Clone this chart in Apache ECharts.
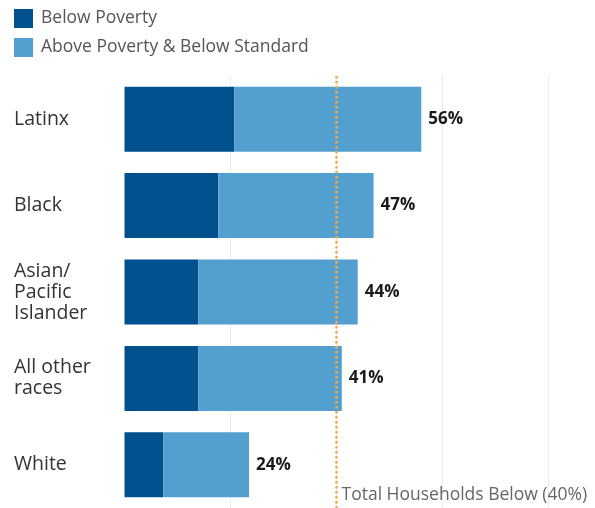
<!DOCTYPE html>
<html>
<head>
<meta charset="utf-8">
<script src="https://cdn.jsdelivr.net/npm/echarts@6/dist/echarts.min.js"></script>
<style>
  html, body { margin: 0; padding: 0; background: #fff; }
  #chart { width: 595px; height: 508px; }
</style>
</head>
<body>
<div id="chart"></div>
<script>
// 数据
var categories = ['Latinx', 'Black', 'Asian/\nPacific\nIslander', 'All other\nraces', 'White']
var belowPoverty = [20.7, 17.7, 13.9, 13.9, 7.3]
var aboveBelowStandard = [35.3, 29.3, 30.1, 27.1, 16.2]
var totals = [56, 47, 44, 41, 24]
var referenceValue = 40
var referenceText = 'Total Households Below (40%)'

var font = '"Open Sans", "Noto Sans", sans-serif'
var chart = echarts.init(document.getElementById('chart'))

var option = {
  animation: false,
  legend: {
    orient: 'vertical',
    left: 9,
    top: 4,
    itemWidth: 19,
    itemHeight: 19,
    itemGap: 10,
    icon: 'rect',
    textStyle: { fontFamily: font, fontSize: 17.5, color: '#555', padding: [0, 0, 0, 3] },
    data: ['Below Poverty', 'Above Poverty & Below Standard']
  },
  grid: {
    left: 124.5,
    width: 424,
    top: 76,
    height: 433
  },
  xAxis: {
    type: 'value',
    min: 0,
    max: 80,
    interval: 20,
    axisLabel: { show: false },
    axisLine: { show: false },
    axisTick: { show: false },
    splitLine: { showMinLine: false, lineStyle: { color: '#ebebeb', width: 1 } }
  },
  yAxis: {
    type: 'category',
    inverse: true,
    data: categories,
    axisLine: { show: false },
    axisTick: { show: false },
    axisLabel: {
      align: 'left',
      margin: 110.5,
      fontFamily: font,
      fontSize: 19.5,
      lineHeight: 21,
      color: '#333',
      padding: [3, 0, 0, 0]
    }
  },
  series: [
    {
      name: 'Below Poverty',
      type: 'bar',
      stack: 'total',
      barWidth: 65,
      itemStyle: { color: '#02518f' },
      data: belowPoverty
    },
    {
      name: 'Above Poverty & Below Standard',
      type: 'bar',
      stack: 'total',
      barWidth: 65,
      itemStyle: { color: '#539fd0' },
      label: {
        show: true,
        position: 'right',
        distance: 7,
        fontFamily: font,
        fontSize: 17,
        fontWeight: 'bold',
        color: '#1a1a1a',
        formatter: function (p) { return totals[p.dataIndex] + '%' }
      },
      markLine: {
        silent: true,
        symbol: 'none',
        label: { show: false },
        lineStyle: { color: '#f7a949', type: [2.5, 2.5], width: 2.5 },
        data: [{ xAxis: referenceValue }]
      },
      data: aboveBelowStandard
    }
  ]
}

chart.setOption(option)

// 参考线说明文字
var refX = chart.convertToPixel({ xAxisIndex: 0 }, referenceValue)
chart.setOption({
  graphic: [{
    type: 'text',
    left: refX + 5,
    top: 486,
    style: {
      text: referenceText,
      fontFamily: font,
      fontSize: 17.5,
      fill: '#666'
    }
  }]
})
</script>
</body>
</html>
